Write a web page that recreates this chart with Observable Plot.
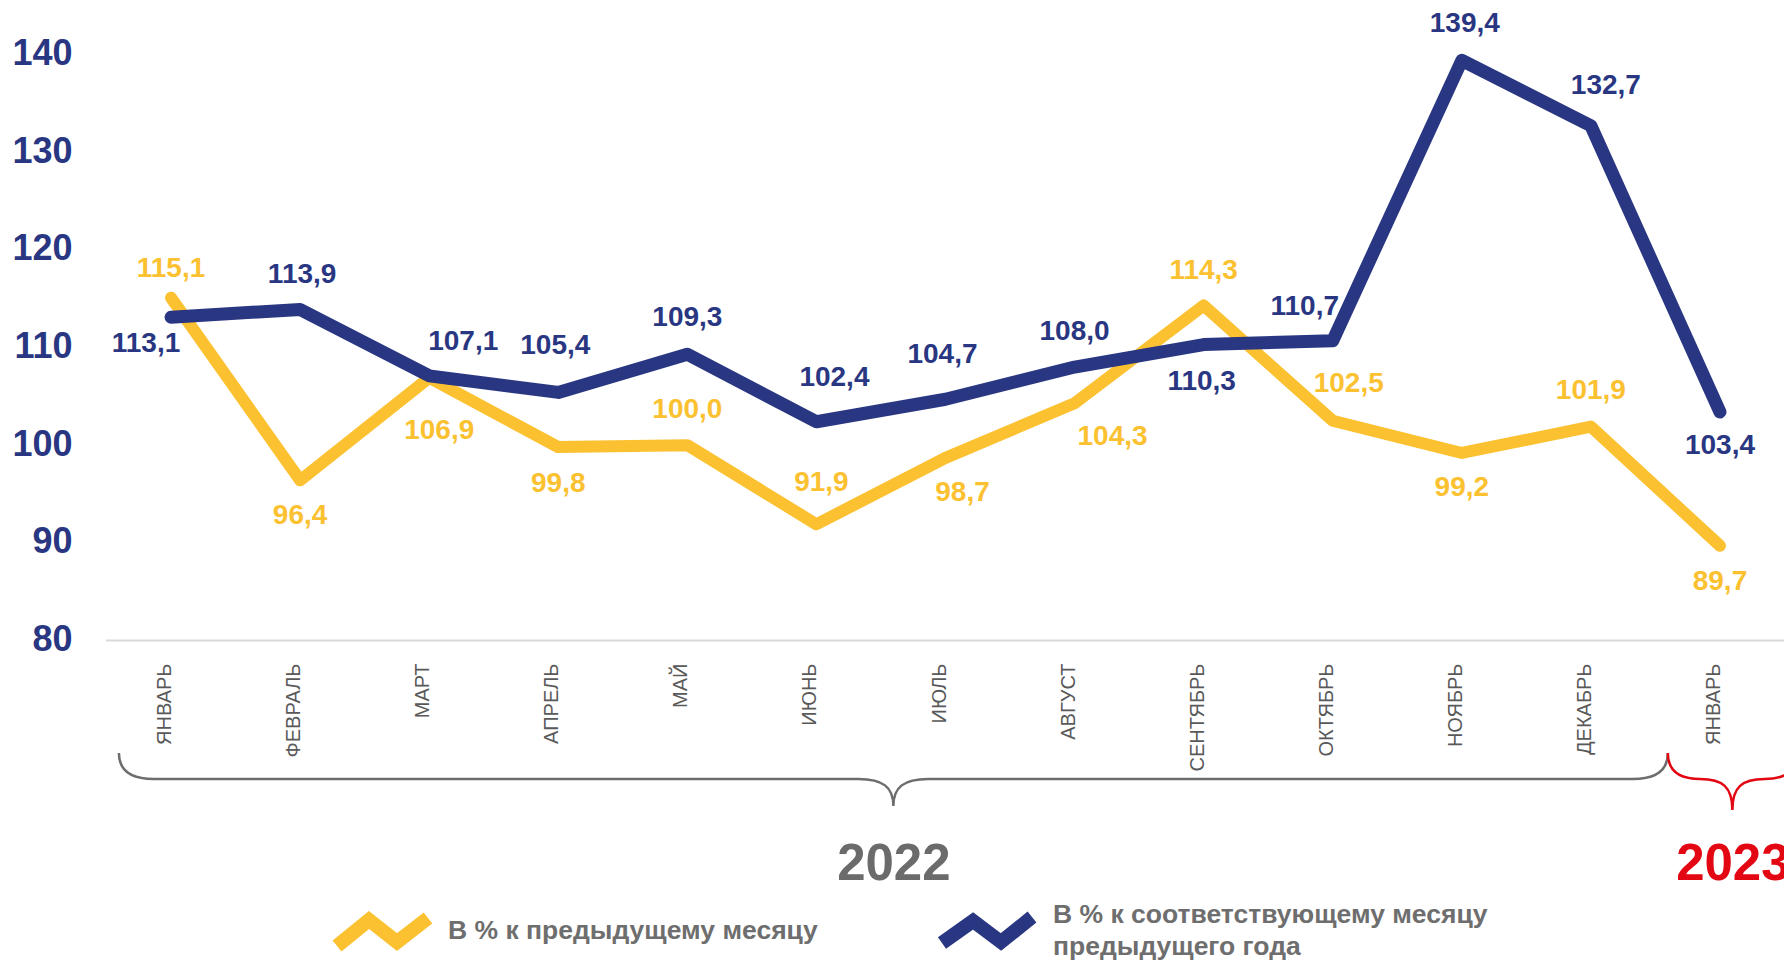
<!DOCTYPE html>
<html>
<head>
<meta charset="utf-8">
<script src="https://cdn.jsdelivr.net/npm/d3@7"></script>
<script src="https://cdn.jsdelivr.net/npm/@observablehq/plot@0.6"></script>
<style>
  html, body { margin: 0; padding: 0; background: #fff; overflow: hidden; }
  body { width: 1784px; height: 962px; font-family: "Liberation Sans", Arial, sans-serif; }
  #chart svg { display: block; overflow: visible; max-width: none; }
  #legend { position: relative; width: 1784px; height: 62px; }
  #legend .txt { position: absolute; font-size: 26.5px; line-height: 32px; font-weight: bold; color: #6e6e6e; white-space: nowrap; }
  #legend svg { position: absolute; overflow: visible; }
</style>
</head>
<body>
<div id="chart"></div>
<div id="legend">
  <svg style="left:333px;top:6px" width="100" height="48"><polyline points="4,40 36,14 64,36 95,12" fill="none" stroke="#fbc130" stroke-width="14" stroke-linejoin="miter" stroke-linecap="butt"/></svg>
  <div class="txt" id="lg1" style="left:448px;top:14px"></div>
  <svg style="left:938px;top:6px" width="100" height="48"><polyline points="4,37 35,15 63,36 94,11" fill="none" stroke="#293682" stroke-width="14" stroke-linejoin="miter" stroke-linecap="butt"/></svg>
  <div class="txt" id="lg2" style="left:1053px;top:-2px"></div>
</div>
<script>
// ---- data ----
const months = ["ЯНВАРЬ","ФЕВРАЛЬ","МАРТ","АПРЕЛЬ","МАЙ","ИЮНЬ","ИЮЛЬ","АВГУСТ","СЕНТЯБРЬ","ОКТЯБРЬ","НОЯБРЬ","ДЕКАБРЬ","ЯНВАРЬ"];
const monthYears = ["2022","2022","2022","2022","2022","2022","2022","2022","2022","2022","2022","2022","2023"];
const prevMonth = [115.1, 96.4, 106.9, 99.8, 100.0, 91.9, 98.7, 104.3, 114.3, 102.5, 99.2, 101.9, 89.7];
const prevYear  = [113.1, 113.9, 107.1, 105.4, 109.3, 102.4, 104.7, 108.0, 110.3, 110.7, 139.4, 132.7, 103.4];
const yTicks = [80, 90, 100, 110, 120, 130, 140];
const years = ["2022", "2023"];
const seriesNames = ["В % к предыдущему месяцу", "В % к соответствующему месяцу<br>предыдущего года"];

// ---- label offsets (styling) ----
const prevYearDx = [-25, 2, 34, -3, 0, 18, -3, 0, -2, -28, 3, 15, 0];
const prevYearDy = [26, -35, -35, -47, -37, -45, -45, -36, 36, -35, -37, -41, 33];
const prevMonthDx = [0, 0, 10, 0, 0, 5, 17, 38, 0, 16, 0, 0, 0];
const prevMonthDy = [-30, 35, 52, 36, -36, -42, 34, 33, -35, -38, 34, -37, 35];

// ---- styles ----
const NAVY = "#293682", YELLOW = "#fbc130", GRAY = "#6b6b6b", RED = "#e30613";
const FONT = "Liberation Sans, Arial, sans-serif";

document.getElementById("lg1").innerHTML = seriesNames[0];
document.getElementById("lg2").innerHTML = seriesNames[1];

const rows = months.map((m, i) => ({i, month: m, year: monthYears[i], pm: prevMonth[i], py: prevYear[i]}));
const fmt = v => v.toFixed(1).replace(".", ",");

const yearGroups = years.map(y => {
  const idx = rows.filter(r => r.year === y).map(r => r.i);
  const a = d3.min(idx) - 0.4, b = d3.max(idx) + 0.6;
  return {year: y, a, b, c: (a + b) / 2};
});

function brackets(index, scales, values, dim) {
  const g = d3.create("svg:g").attr("fill", "none").attr("stroke-width", 2.5);
  const yb = dim.height - dim.marginBottom;
  yearGroups.forEach((grp, k) => {
    const x0 = scales.x(grp.a), x1 = scales.x(grp.b), xc = scales.x(grp.c);
    const r = Math.min(35, (x1 - x0) / 4);
    const yTop = yb + 113, yMid = yb + 139, yTip = yb + (k === 0 ? 166 : 170);
    const p = `M${x0},${yTop} C${x0},${yMid - 10} ${x0 + r * 0.3},${yMid} ${x0 + r},${yMid}`
      + ` L${xc - r},${yMid} C${xc - r * 0.3},${yMid} ${xc},${yMid + 8} ${xc},${yTip}`
      + ` C${xc},${yMid + 8} ${xc + r * 0.3},${yMid} ${xc + r},${yMid}`
      + ` L${x1 - r},${yMid} C${x1 - r * 0.3},${yMid} ${x1},${yMid - 10} ${x1},${yTop}`;
    g.append("path").attr("d", p).attr("stroke", k === 0 ? "#6d6d6d" : RED);
  });
  return g.node();
}

const labelMarks = [];
rows.forEach((r, k) => {
  labelMarks.push(Plot.text([r], {x: "i", y: "pm", text: d => fmt(d.pm), dx: prevMonthDx[k], dy: prevMonthDy[k],
    fill: YELLOW, fontSize: 28, fontWeight: "bold", fontFamily: FONT}));
});
rows.forEach((r, k) => {
  labelMarks.push(Plot.text([r], {x: "i", y: "py", text: d => fmt(d.py), dx: prevYearDx[k], dy: prevYearDy[k],
    fill: NAVY, fontSize: 28, fontWeight: "bold", fontFamily: FONT}));
});

const chart = Plot.plot({
  width: 1784,
  height: 900,
  marginLeft: 106,
  marginRight: 0,
  marginTop: 54,
  marginBottom: 260,
  style: {fontFamily: FONT, background: "#fff", overflow: "visible"},
  x: {type: "linear", domain: [-0.5, 12.5], axis: null},
  y: {domain: [80, 140], axis: null},
  marks: [
    Plot.ruleY([yTicks[0]], {stroke: "#d9d9d9", strokeWidth: 2}),
    Plot.text(yTicks, {y: d => d, text: d => String(d), frameAnchor: "left", dx: -34, dy: -1, textAnchor: "end",
      fill: NAVY, fontSize: 36, fontWeight: "bold", fontFamily: FONT}),
    Plot.text(rows, {x: "i", text: "month", frameAnchor: "bottom", rotate: -90, textAnchor: "end", dy: 23,
      fill: "#595959", fontSize: 20, fontFamily: FONT}),
    Plot.line(rows, {x: "i", y: "pm", stroke: YELLOW, strokeWidth: 12, strokeLinecap: "round", strokeLinejoin: "round"}),
    Plot.line(rows, {x: "i", y: "py", stroke: NAVY, strokeWidth: 13, strokeLinecap: "round", strokeLinejoin: "round"}),
    ...labelMarks,
    brackets,
    Plot.text(yearGroups, {x: "c", text: "year", frameAnchor: "bottom", dy: 239,
      fill: d => d.year === years[0] ? GRAY : RED, fontSize: 51, fontWeight: "bold", fontFamily: FONT})
  ]
});
document.getElementById("chart").appendChild(chart);
</script>
</body>
</html>
